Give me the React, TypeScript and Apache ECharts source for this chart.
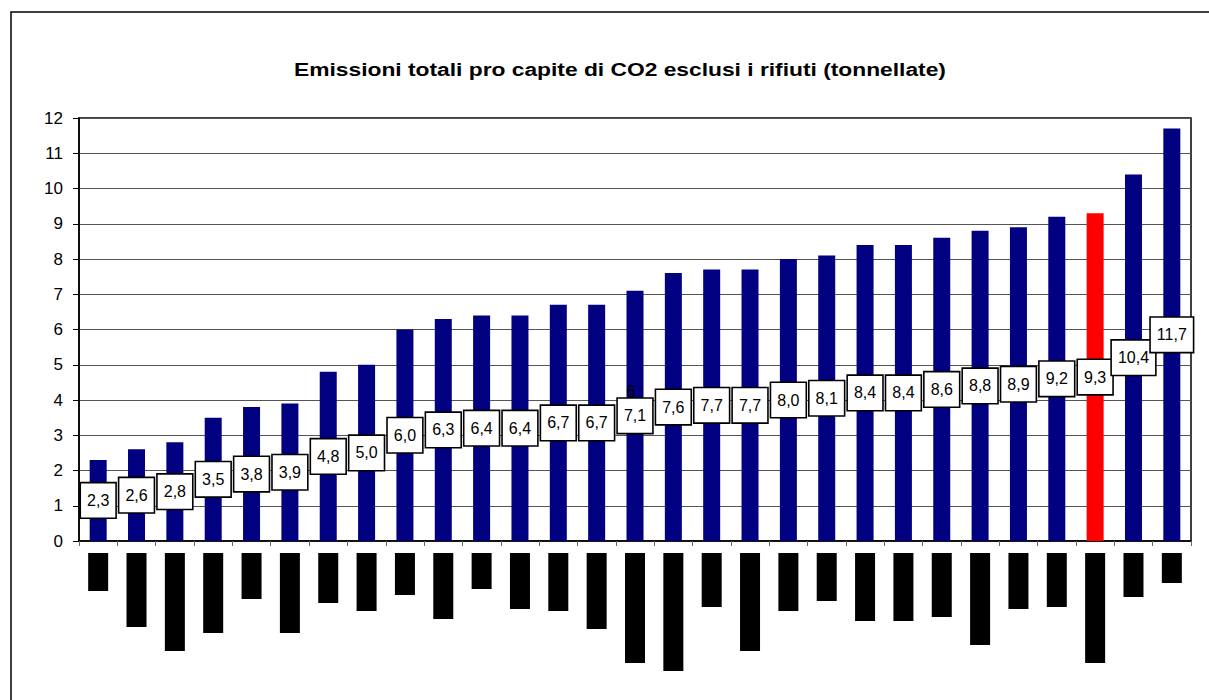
import React, { useEffect, useRef } from "react";
import * as echarts from "echarts";

const title = "Emissioni totali pro capite di CO2 esclusi i rifiuti (tonnellate)";
const categories = Array.from({ length: 29 }, (_, i) => String(i + 1));
const emissions = [2.3, 2.6, 2.8, 3.5, 3.8, 3.9, 4.8, 5.0, 6.0, 6.3, 6.4, 6.4, 6.7, 6.7, 7.1, 7.6, 7.7, 7.7, 8.0, 8.1, 8.4, 8.4, 8.6, 8.8, 8.9, 9.2, 9.3, 10.4, 11.7];
const highlightIndex = 26;
// lengths of the obscured (blacked-out) category labels below the axis
const hiddenLabelLengths = [38, 74, 98, 80, 46, 80, 50, 58, 42, 66, 36, 56, 58, 76, 110, 118, 54, 98, 58, 48, 68, 68, 64, 92, 56, 54, 110, 44, 30];
const yTicks = { min: 0, max: 12, interval: 1 };

const FONT = "'Liberation Sans', Arial, Helvetica, sans-serif";

export default function App() {
  const ref = useRef<HTMLDivElement>(null);
  useEffect(() => {
    if (!ref.current) return;
    const chart = echarts.init(ref.current, null, { renderer: "svg" });
    const option: any = {
      animation: false,
      backgroundColor: "#ffffff",
      textStyle: { fontFamily: FONT },
      grid: [
        { left: 79, right: 18, top: 118, bottom: 159, show: true, borderColor: "#000", borderWidth: 1.5, backgroundColor: "transparent" },
        { left: 79, right: 18, top: 553, height: 120, show: false },
      ],
      xAxis: [
        {
          type: "category",
          gridIndex: 0,
          data: categories,
          boundaryGap: true,
          axisLine: { show: true, lineStyle: { color: "#000", width: 1.5 } },
          axisTick: { show: true, length: 5, lineStyle: { color: "#666" } },
          axisLabel: { show: false },
        },
        {
          type: "category",
          gridIndex: 1,
          data: categories,
          boundaryGap: true,
          show: false,
        },
      ],
      yAxis: [
        {
          type: "value",
          gridIndex: 0,
          min: yTicks.min,
          max: yTicks.max,
          interval: yTicks.interval,
          axisLine: { show: true, lineStyle: { color: "#000", width: 1.5 } },
          axisTick: { show: true, length: 6, lineStyle: { color: "#000" } },
          axisLabel: { color: "#000", fontSize: 17, fontFamily: FONT, margin: 16 },
          splitLine: { show: true, lineStyle: { color: "#555", width: 1 } },
        },
        {
          type: "value",
          gridIndex: 1,
          min: 0,
          max: 120,
          inverse: true,
          show: false,
        },
      ],
      series: [
        {
          type: "bar",
          xAxisIndex: 0,
          yAxisIndex: 0,
          barWidth: 17,
          data: emissions.map((v, i) => ({
            value: v,
            itemStyle: { color: i === highlightIndex ? "#ff0000" : "#000080" },
          })),
          label: {
            show: true,
            position: "inside",
            formatter: (p: any) => Number(p.value).toFixed(1).replace(".", ","),
            color: "#000",
            fontSize: 16,
            fontFamily: FONT,
            backgroundColor: "#fff",
            borderColor: "#000",
            borderWidth: 1.6,
            padding: [9, 6, 9, 6],
            lineHeight: 16,
          },
        },
        {
          type: "bar",
          xAxisIndex: 1,
          yAxisIndex: 1,
          barWidth: 20,
          data: hiddenLabelLengths,
          itemStyle: { color: "#000" },
          silent: true,
        },
      ],
      graphic: [
        {
          type: "rect",
          shape: { x: 11, y: 12, width: 1400, height: 900 },
          style: { fill: "none", stroke: "#000", lineWidth: 1.5 },
          silent: true,
          z: 100,
        },
        {
          type: "text",
          x: 620,
          y: 69,
          scaleX: 1.2,
          style: { text: title, fontSize: 19, fontWeight: "bold", fontFamily: FONT, fill: "#000", align: "center", verticalAlign: "middle" },
          z: 100,
        },
        {
          type: "text",
          x: 631,
          y: 391,
          style: { text: "6", fontSize: 17, fontFamily: FONT, fill: "#000", align: "center", verticalAlign: "middle" },
          z: 100,
        },
      ],
    };
    chart.setOption(option);
    return () => chart.dispose();
  }, []);
  return <div ref={ref} style={{ position: "fixed", left: 0, top: 0, width: 1209, height: 700 }} />;
}
